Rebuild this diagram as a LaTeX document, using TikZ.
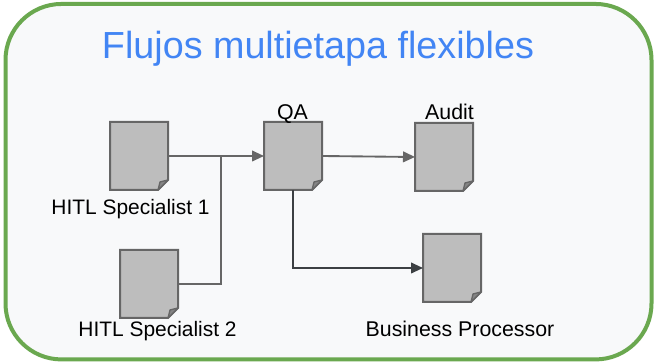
\documentclass[tikz,border=0pt]{standalone}
\usepackage{fontspec}
\setmainfont{Liberation Sans}
\usetikzlibrary{arrows.meta}
\definecolor{frameg}{HTML}{6AA84F}
\definecolor{panel}{HTML}{F8F9FA}
\definecolor{docfill}{HTML}{BDBDBD}
\definecolor{docline}{HTML}{666666}
\definecolor{foldc}{HTML}{858585}
\definecolor{linkc}{HTML}{666666}
\definecolor{linkdark}{HTML}{3C4043}
\definecolor{titlec}{HTML}{4285F4}
\tikzset{
  x=0.75pt,y=-0.75pt,
  docbox/.style={rectangle,minimum width=43.5pt,minimum height=51pt,inner sep=0pt,outer sep=0pt},
  docshape/.style={draw=docline,fill=docfill,line width=1.5pt,line join=miter},
  foldmark/.style={draw=docline,fill=foldc,line width=1pt,line join=round},
  link/.style={draw=linkc,line width=1.4pt},
  linkarrow/.style={link,-{Triangle[length=9pt,width=8pt]}},
  lab/.style={font=\fontsize{16pt}{18pt}\selectfont,text=black,inner sep=0pt,anchor=base},
  labsmall/.style={lab,font=\fontsize{15.7pt}{18pt}\selectfont},
}
\newcommand{\docat}[1]{%
  \path[docshape] (#1.north west) -- (#1.north east) -- ([yshift=7.5pt]#1.south east) -- ([xshift=-7.5pt]#1.south east) -- (#1.south west) -- cycle;
  \path[foldmark] ([xshift=-7.5pt]#1.south east) -- ([xshift=-6pt,yshift=6pt]#1.south east) -- ([yshift=7.5pt]#1.south east) -- cycle;}
\begin{document}
\begin{tikzpicture}
\useasboundingbox (0,0) rectangle (654,363);
\fill[white] (0,0) rectangle (654,363);
\node[draw=frameg,fill=panel,line width=3pt,rounded corners=42pt,minimum width=484.5pt,minimum height=266.6pt,inner sep=0pt] (panel) at (328.5,181.7) {};
\node[font=\fontsize{28.3pt}{32pt}\selectfont,text=titlec,inner sep=0pt,anchor=base] (title) at (318,59) {Flujos multietapa flexibles};
\node[docbox] (d1) at (139,156) {};
\node[docbox] (d2) at (149,284) {};
\node[docbox] (qa) at (293,156) {};
\node[docbox] (audit) at (444,157) {};
\node[docbox] (bp) at (452,268) {};
\docat{d1}\docat{d2}\docat{qa}\docat{audit}\docat{bp}
\coordinate (join) at (221,156);
\draw[linkarrow] (d1.east) -- (qa.west);
\draw[link] (d2.east) -| (join);
\draw[linkarrow] (qa.east) -- (audit.west);
\draw[linkarrow,draw=linkdark] (qa.south) |- (bp.west);
\node[labsmall] (l1) at (130.5,215) {HITL Specialist 1};
\node[labsmall] (l2) at (157.5,337) {HITL Specialist 2};
\node[lab] (l3) at (292.5,120) {QA};
\node[lab] (l4) at (449.5,120) {Audit};
\node[lab] (l5) at (460,337) {Business Processor};
\end{tikzpicture}
\end{document}
